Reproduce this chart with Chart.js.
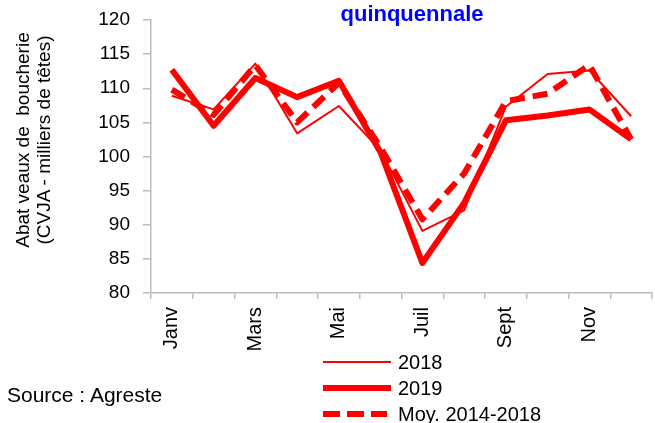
<!DOCTYPE html>
<html>
<head>
<meta charset="utf-8">
<script src="https://cdn.jsdelivr.net/npm/chart.js@4/dist/chart.umd.min.js"></script>
<style>
    body { margin: 0; background: #fff; }
    #wrap { position: relative; width: 655px; height: 423px; font-family: "Liberation Sans", Arial, sans-serif; }
    #chart { position: absolute; left: 0; top: 0; }
    .txt { position: absolute; white-space: nowrap; color: #000; }
    #title { left: 412px; top: 3px; transform: translateX(-50%); font-size: 22px; font-weight: bold; color: #0000ff; line-height: 21px; }
    #ytitle { left: 33px; top: 140px; width: 300px; text-align: center; font-size: 19px; line-height: 21px;
              transform: translate(-50%, -50%) rotate(-90deg); }
    #source { left: 7px; top: 383px; font-size: 21px; line-height: 24px; }
    .leg { position: absolute; left: 323px; height: 24px; font-size: 20px; line-height: 24px; }
    .leg span.l { position: absolute; left: 0; width: 68px; background: #ff0000; }
    .leg span.t { position: absolute; left: 75px; top: 0; white-space: nowrap; }
</style>
</head>
<body>
<div id="wrap">
    <canvas id="chart" width="655" height="423"></canvas>
    <div class="txt" id="title">quinquennale</div>
    <div class="txt" id="ytitle">Abat veaux de&nbsp; boucherie<br>(CVJA - milliers de têtes)</div>
    <div class="txt" id="source">Source : Agreste</div>
    <div class="leg" style="top:350px"><span class="l" style="top:11px;height:2px"></span><span class="t">2018</span></div>
    <div class="leg" style="top:376px"><span class="l" style="top:9px;height:6px"></span><span class="t">2019</span></div>
    <div class="leg" style="top:402px"><span class="l" style="top:9px;height:6px;width:64px;background:repeating-linear-gradient(90deg,#ff0000 0 17px,transparent 17px 24px)"></span><span class="t">Moy. 2014-2018</span></div>
</div>
<script>
// ===== DATA =====
const months = ["Janv", "Févr", "Mars", "Avr", "Mai", "Juin", "Juil", "Août", "Sept", "Oct", "Nov", "Déc"];
const values2018 = [108.9, 106.9, 113.6, 103.4, 107.4, 100.9, 89.1, 92.1, 107.3, 112.1, 112.6, 105.9];
const values2019 = [112.7, 104.5, 111.5, 108.7, 111.1, 100.6, 84.4, 93.2, 105.3, 106.0, 106.9, 102.5];
const valuesMoy = [109.8, 106.1, 113.4, 105.0, 110.8, 101.3, 90.8, 97.5, 108.1, 109.2, 113.4, 102.5];
const yTicks = [80, 85, 90, 95, 100, 105, 110, 115, 120];

const RED = "#ff0000";
const AXIS = "#bdbdbd";
const FONT = "'Liberation Sans', Arial, sans-serif";

// ===== CHART =====
new Chart(document.getElementById("chart"), {
    type: "line",
    data: {
        labels: months,
        datasets: [
            { label: "2018", data: values2018, borderColor: RED, borderWidth: 2 },
            { label: "2019", data: values2019, borderColor: RED, borderWidth: 6 },
            { label: "Moy. 2014-2018", data: valuesMoy, borderColor: RED, borderWidth: 6, borderDash: [15, 8] }
        ]
    },
    options: {
        responsive: false,
        animation: false,
        layout: { padding: { left: 0, right: 3, top: 20, bottom: 70 } },
        elements: {
            point: { radius: 0 },
            line: { tension: 0, fill: false, borderJoinStyle: "round" }
        },
        plugins: {
            legend: { display: false },
            tooltip: { enabled: false }
        },
        scales: {
            x: {
                offset: true,
                grid: { offset: true, drawOnChartArea: false, drawTicks: true, tickLength: 6, color: AXIS, lineWidth: 1.5 },
                border: { color: AXIS, width: 1.5 },
                ticks: {
                    autoSkip: false,
                    minRotation: 90,
                    maxRotation: 90,
                    padding: 8,
                    color: "#000",
                    font: { family: FONT, size: 20 },
                    callback: (v, i) => (i % 2 === 0 ? months[i] : "")
                },
                afterFit: s => {
                    s.height = 60;
                    s.paddingLeft = 0; s.paddingRight = 0; s.paddingTop = 0; s.paddingBottom = 0;
                }
            },
            y: {
                min: yTicks[0],
                max: yTicks[yTicks.length - 1],
                afterBuildTicks: s => { s.ticks = yTicks.map(v => ({ value: v })); },
                grid: { drawOnChartArea: false, drawTicks: true, tickLength: 8, color: AXIS, lineWidth: 1.5 },
                border: { color: AXIS, width: 1.5 },
                ticks: { padding: 13, color: "#000", font: { family: FONT, size: 19 } },
                afterFit: s => {
                    s.width = 151;
                    s.paddingLeft = 0; s.paddingRight = 0; s.paddingTop = 0; s.paddingBottom = 0;
                }
            }
        }
    }
});
</script>
</body>
</html>
